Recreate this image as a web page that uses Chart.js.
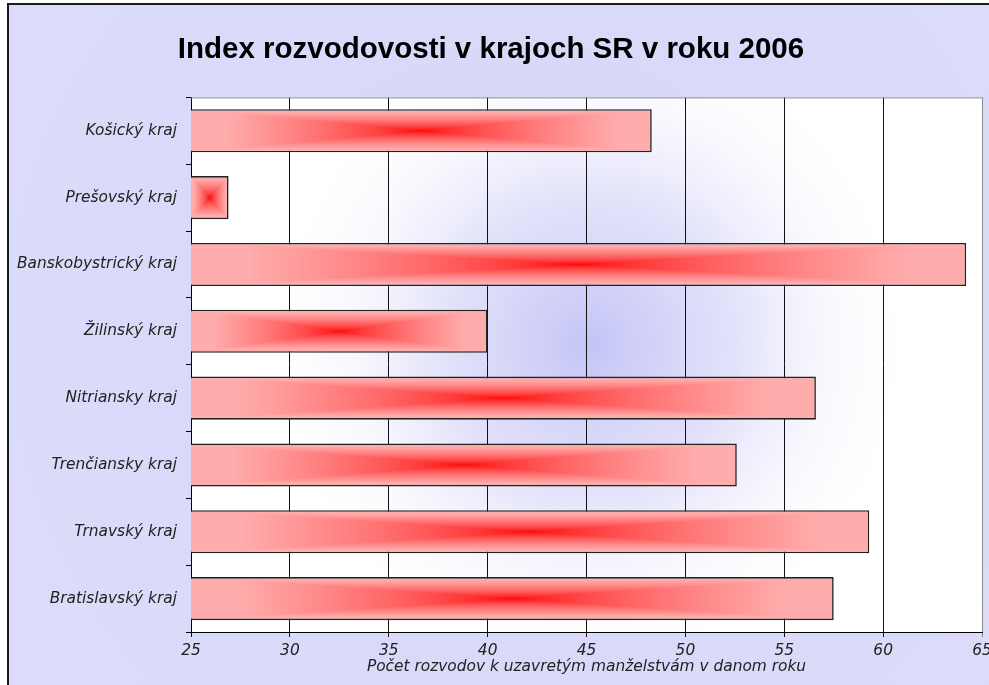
<!DOCTYPE html>
<html>
<head>
<meta charset="utf-8">
<script src="https://cdn.jsdelivr.net/npm/chart.js@4/dist/chart.umd.min.js"></script>
<style>
  html, body { margin: 0; padding: 0; background: #fff; overflow: hidden; }
  #wrap { width: 989px; height: 685px; }
</style>
</head>
<body>
<div id="wrap"><canvas id="chart" width="989" height="685"></canvas></div>
<script>
const regions = [
  "Košický kraj",
  "Prešovský kraj",
  "Banskobystrický kraj",
  "Žilinský kraj",
  "Nitriansky kraj",
  "Trenčiansky kraj",
  "Trnavský kraj",
  "Bratislavský kraj"
];
const divorceIndex = [48.3, 26.9, 64.2, 40.0, 56.6, 52.6, 59.3, 57.5];
const xMin = 25;
const xMax = 65;
const xStep = 5;

const titleText = "Index rozvodovosti v krajoch SR v roku 2006";
const xTitle = "Počet rozvodov k uzavretým manželstvám v danom roku";

const labelFont = { family: "'DejaVu Sans', sans-serif", size: 15.4, style: "italic" };
const barShare = 0.645;

// rectangular "from center" gradient (red middle, pink edges) per bar
function barFill(ctx) {
  if (ctx.type !== "data") return "#ffaaaa";
  const chart = ctx.chart;
  const xs = chart.scales.x, ys = chart.scales.y;
  if (!xs || !ys || !chart.chartArea) return "#ffaaaa";
  const x0 = xs.getPixelForValue(xs.min);
  const x1 = xs.getPixelForValue(ctx.raw);
  const cat = (ys.bottom - ys.top) / regions.length;
  const h = cat * barShare;
  const yc = ys.getPixelForValue(ctx.dataIndex);
  const w = x1 - x0;
  const pad = 3;
  const W = Math.ceil(w) + pad * 2, H = Math.ceil(h) + pad * 2;
  const off = document.createElement("canvas");
  off.width = W; off.height = H;
  const oc = off.getContext("2d");
  const img = oc.createImageData(W, H);
  for (let y = 0; y < H; y++) {
    for (let x = 0; x < W; x++) {
      const dx = Math.abs(x + 0.5 - pad - w / 2) / (w / 2);
      const dy = Math.abs(y + 0.5 - pad - h / 2) / (h / 2);
      let s = Math.min(1, Math.max(dx, dy) / 0.85);
      s = Math.pow(s, 0.65);
      const k = (y * W + x) * 4;
      img.data[k] = 255;
      img.data[k + 1] = 172 * s;
      img.data[k + 2] = 172 * s;
      img.data[k + 3] = 255;
    }
  }
  oc.putImageData(img, 0, 0);
  const pat = chart.ctx.createPattern(off, "no-repeat");
  pat.setTransform(new DOMMatrix().translate(x0 - pad, yc - h / 2 - pad));
  return pat;
}

const backdrop = {
  id: "backdrop",
  beforeDraw(chart) {
    const c = chart.ctx;
    const W = chart.width, H = chart.height;
    const a = chart.chartArea;
    c.save();
    c.fillStyle = "#fff";
    c.fillRect(0, 0, W, H);
    let g = c.createRadialGradient(520, 330, 40, 520, 330, 650);
    g.addColorStop(0, "#d6d6f8");
    g.addColorStop(1, "#dcdcfa");
    c.fillStyle = g;
    c.fillRect(9, 5, W, H);
    c.strokeStyle = "#1a1a1a";
    c.lineWidth = 2;
    c.beginPath();
    c.moveTo(8, H);
    c.lineTo(8, 4);
    c.lineTo(W, 4);
    c.stroke();
    // plot area
    c.fillStyle = "#fff";
    c.fillRect(a.left, a.top, a.right - a.left, a.bottom - a.top);
    c.beginPath();
    c.rect(a.left, a.top, a.right - a.left, a.bottom - a.top);
    c.clip();
    g = c.createRadialGradient(590, 345, 0, 590, 345, 330);
    g.addColorStop(0, "rgba(196,196,246,1)");
    g.addColorStop(0.45, "rgba(214,214,249,0.7)");
    g.addColorStop(1, "rgba(255,255,255,0)");
    c.fillStyle = g;
    c.fillRect(a.left, a.top, a.right - a.left, a.bottom - a.top);
    c.restore();
  },
  beforeDatasetsDraw(chart) {
    const c = chart.ctx;
    const a = chart.chartArea;
    c.save();
    c.strokeStyle = "#8a8a8a";
    c.lineWidth = 1;
    c.beginPath();
    c.moveTo(a.left, a.top + 0.5);
    c.lineTo(a.right + 0.5, a.top + 0.5);
    c.lineTo(a.right + 0.5, a.bottom);
    c.stroke();
    c.restore();
  }
};

new Chart(document.getElementById("chart"), {
  type: "bar",
  data: {
    labels: regions,
    datasets: [{
      data: divorceIndex,
      backgroundColor: barFill,
      borderColor: "#222",
      borderWidth: 1.6,
      borderSkipped: false,
      categoryPercentage: 1,
      barPercentage: barShare
    }]
  },
  options: {
    indexAxis: "y",
    responsive: false,
    animation: false,
    layout: { padding: { left: 0, right: 7, top: 0, bottom: 0 } },
    plugins: {
      legend: { display: false },
      tooltip: { enabled: false },
      title: {
        display: true,
        text: titleText,
        color: "#000",
        font: { family: "'Liberation Sans', Arial, sans-serif", size: 29.5, weight: "bold", lineHeight: 1.2 },
        padding: { top: 32, bottom: 30 }
      }
    },
    scales: {
      x: {
        min: xMin,
        max: xMax,
        ticks: {
          stepSize: xStep,
          color: "#222",
          font: labelFont,
          padding: 5,
          maxRotation: 0
        },
        grid: {
          color: (ctx) => (ctx.tick && ctx.tick.value === xMax ? "#8a8a8a" : "#111"),
          lineWidth: 1,
          tickLength: 5,
          drawTicks: true
        },
        border: { color: "#000", width: 1 },
        title: {
          display: true,
          text: xTitle,
          color: "#222",
          font: labelFont,
          padding: { top: 0, bottom: 9 }
        },
        afterFit(scale) {
          scale.height = 53;
          scale.paddingLeft = 0;
          scale.paddingRight = 0;
        }
      },
      y: {
        ticks: {
          color: "#222",
          font: labelFont,
          padding: 9
        },
        grid: {
          offset: true,
          drawOnChartArea: false,
          color: "#000",
          tickLength: 5
        },
        border: { color: "#000", width: 1 },
        afterFit(scale) {
          scale.width = 191;
          scale.paddingTop = 0;
          scale.paddingBottom = 0;
        }
      }
    }
  },
  plugins: [backdrop]
});
</script>
</body>
</html>
